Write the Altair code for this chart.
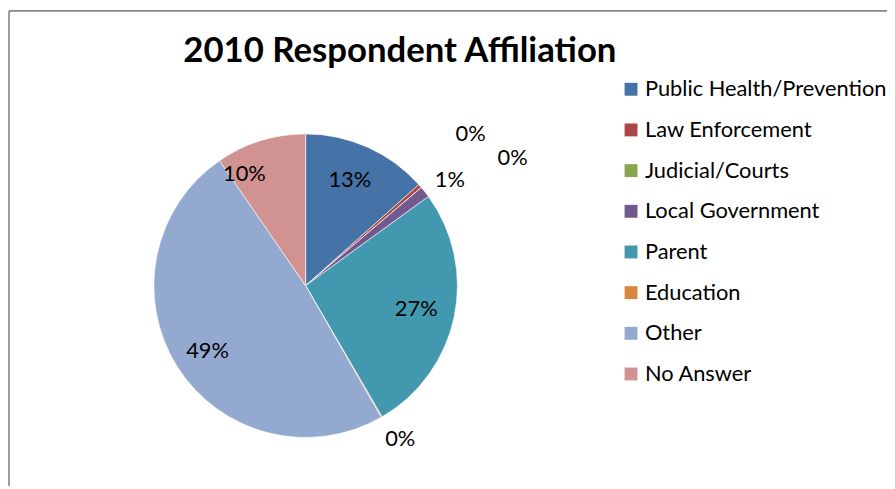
import altair as alt
import pandas as pd

title_text = "2010 Respondent Affiliation"
categories = ["Public Health/Prevention", "Law Enforcement", "Judicial/Courts",
              "Local Government", "Parent", "Education", "Other", "No Answer"]
shares = [13.4, 0.4, 0.0, 1.2, 26.6, 0.1, 48.7, 9.6]
labels = ["13%", "0%", "0%", "1%", "27%", "0%", "49%", "10%"]
colors = ["#4572A7", "#AA4643", "#89A54E", "#71588F", "#4198AF", "#DB843D", "#93A9CF", "#D19392"]

# label placement (polar: degrees clockwise from top, pixel distance from centre)
label_angle = [22.8, 47.4, 58.4, 53.9, 102.1, 148.4, 236.2, 331.2]
label_radius = [115, 226, 245, 180, 114, 182, 119, 128]

df = pd.DataFrame({
    "category": categories,
    "share": shares,
    "label": labels,
    "idx": list(range(len(categories))),
    "label_angle": label_angle,
    "label_radius": label_radius,
})

CX, CY, R = 300, 278, 153
FONT = "Lato"

pie = alt.Chart(df).mark_arc(outerRadius=R, stroke="white", strokeWidth=0.6).encode(
    theta=alt.Theta("share:Q", stack=True),
    color=alt.Color(
        "category:N",
        sort=categories,
        scale=alt.Scale(domain=categories, range=colors),
        legend=alt.Legend(
            title=None, orient="none", legendX=617, legendY=69,
            symbolType="square", symbolSize=169, symbolStrokeWidth=0,
            labelFont=FONT, labelFontSize=22, labelColor="black",
            rowPadding=19, labelOffset=3, padding=0, labelLimit=400,
        ),
    ),
    order=alt.Order("idx:Q"),
    x=alt.value(CX),
    y=alt.value(CY),
)

text = alt.Chart(df).mark_text(font=FONT, fontSize=22, color="black",
                               align="center", baseline="middle").encode(
    theta=alt.Theta("label_angle:Q", stack=False,
                    scale=alt.Scale(domain=[0, 360], range=[0, 6.283185307179586])),
    radius=alt.Radius("label_radius:Q", scale=None),
    text="label:N",
    x=alt.value(CX),
    y=alt.value(CY),
)

one = pd.DataFrame({"t": [title_text]})
title = alt.Chart(one).mark_text(font=FONT, fontSize=35, fontWeight="bold",
                                 align="center", baseline="alphabetic", color="black").encode(
    text="t:N", x=alt.value(395), y=alt.value(53))

border_top = alt.Chart(one).mark_rule(color="#878787", strokeWidth=1.6).encode(
    x=alt.value(1), x2=alt.value(886), y=alt.value(1))
border_left = alt.Chart(one).mark_rule(color="#878787", strokeWidth=1.6).encode(
    x=alt.value(1), y=alt.value(1), y2=alt.value(480))

chart = alt.layer(border_top, border_left, pie, text, title).resolve_scale(
    theta="independent"
).properties(
    width=886, height=480, padding=0, autosize=alt.AutoSizeParams(type="none")
).configure_view(stroke=None)

chart.save("out.html", embed_options={"renderer": "svg", "actions": False})
